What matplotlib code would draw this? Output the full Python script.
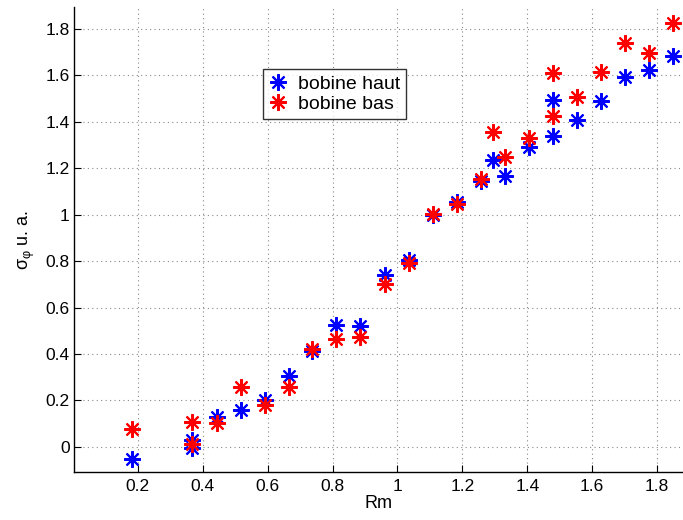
import matplotlib
matplotlib.use("Agg")
import matplotlib.pyplot as plt

# Rm values (shared by both coils)
rm = [0.181, 0.368, 0.368, 0.443, 0.517, 0.592, 0.666, 0.738, 0.812, 0.886,
      0.960, 1.035, 1.108, 1.183, 1.257, 1.293, 1.331, 1.406, 1.478, 1.478,
      1.553, 1.627, 1.701, 1.776, 1.850]

# sigma_phi for "bobine haut" (blue)
haut = [-0.053, 0.030, -0.006, 0.131, 0.159, 0.202, 0.307, 0.412, 0.524, 0.521,
        0.741, 0.805, 1.000, 1.056, 1.146, 1.236, 1.167, 1.293, 1.339, 1.494,
        1.408, 1.490, 1.595, 1.624, 1.685]

# sigma_phi for "bobine bas" (red)
bas = [0.076, 0.108, 0.013, 0.102, 0.260, 0.181, 0.257, 0.421, 0.467, 0.475,
       0.702, 0.794, 1.002, 1.046, 1.155, 1.358, 1.248, 1.329, 1.425, 1.612,
       1.509, 1.614, 1.739, 1.696, 1.825]

xticks = [0.2, 0.4, 0.6, 0.8, 1.0, 1.2, 1.4, 1.6, 1.8]
xticklabels = ["0.2", "0.4", "0.6", "0.8", "1", "1.2", "1.4", "1.6", "1.8"]
yticks = [0, 0.2, 0.4, 0.6, 0.8, 1.0, 1.2, 1.4, 1.6, 1.8]
yticklabels = ["0", "0.2", "0.4", "0.6", "0.8", "1", "1.2", "1.4", "1.6", "1.8"]

plt.rcParams["font.family"] = ["Liberation Sans", "DejaVu Sans"]

fig = plt.figure(figsize=(6.83, 5.2), dpi=100)
ax = fig.add_axes([74 / 683, 48 / 520, 609 / 683, 465 / 520])

star = (8, 2, 0)  # MATLAB-like asterisk
ax.plot(rm, haut, linestyle="none", marker=star, color="#0000ff",
        markersize=12, markeredgewidth=1.5, label="bobine haut")
ax.plot(rm, bas, linestyle="none", marker=star, color="#ff0000",
        markersize=12, markeredgewidth=1.5, label="bobine bas")

ax.set_xlim(0.003, 1.88)
ax.set_ylim(-0.108, 1.895)
ax.set_xticks(xticks)
ax.set_xticklabels(xticklabels)
ax.set_yticks(yticks)
ax.set_yticklabels(yticklabels)

ax.tick_params(direction="in", length=5, width=0.8, labelsize=12.5)
ax.tick_params(axis="x", pad=5)
ax.tick_params(axis="y", pad=3)
ax.grid(True, linestyle=(0, (1, 3)), color="#888888", linewidth=0.8)
ax.set_axisbelow(True)

for side in ["top", "right"]:
    ax.spines[side].set_visible(False)
for side in ["left", "bottom"]:
    ax.spines[side].set_linewidth(1.0)

ax.set_xlabel("Rm", fontsize=13, labelpad=1)
ax.set_ylabel("σ$_\\mathregular{φ}$ u. a.", fontsize=13, labelpad=6)

leg = ax.legend(loc="upper left", bbox_to_anchor=(0.31, 0.866), fontsize=14,
                frameon=True, fancybox=False, handlelength=1.0,
                handletextpad=0.5, borderpad=0.3, labelspacing=0.15,
                borderaxespad=0)
leg.get_frame().set_edgecolor("black")
leg.get_frame().set_linewidth(1.0)

fig.savefig("out.png", dpi=100)
